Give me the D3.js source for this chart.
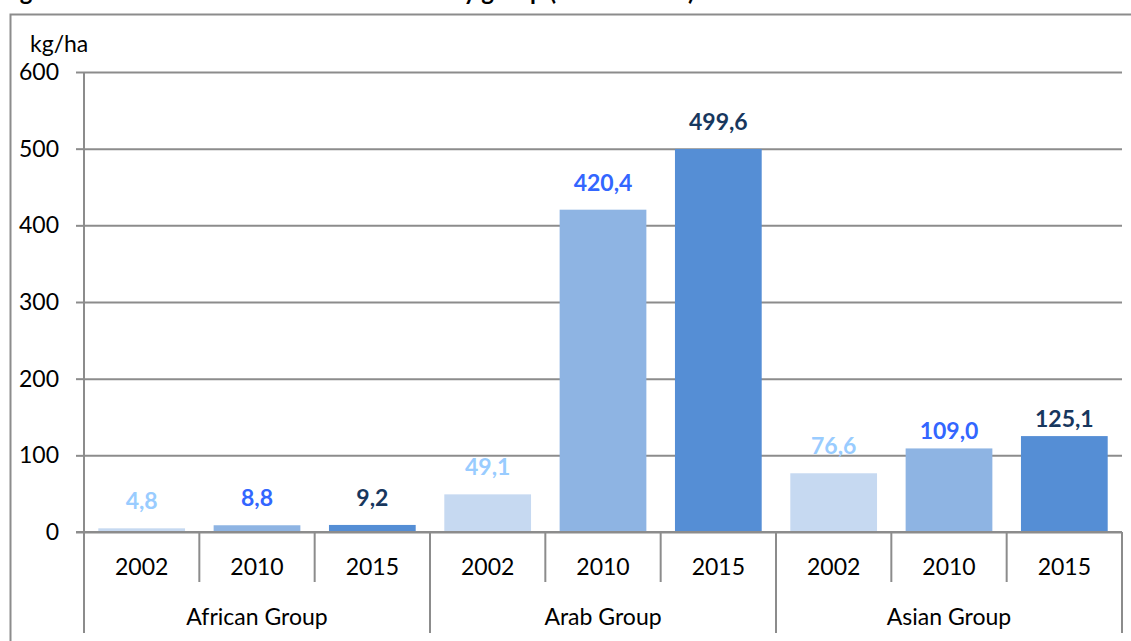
<!DOCTYPE html>
<html>
<head>
<meta charset="utf-8">
<script src="https://cdn.jsdelivr.net/npm/d3@7"></script>
<style>
  body { margin: 0; background: #fff; overflow: hidden; }
  svg { display: block; font-family: Lato, "Open Sans", sans-serif; }
</style>
</head>
<body>
<svg id="chart" width="1131" height="641"></svg>
<script>
// data
var groups = ["African Group", "Arab Group", "Asian Group"];
var years = ["2002", "2010", "2015"];
var african = [4.8, 8.8, 9.2];
var arab = [49.1, 420.4, 499.6];
var asian = [76.6, 109.0, 125.1];
var yTicks = [0, 100, 200, 300, 400, 500, 600];

var values = [african, arab, asian];
var barColor = {"2002": "#c6d9f1", "2010": "#8eb4e3", "2015": "#558ed5"};
var labelColor = {"2002": "#99ccff", "2010": "#3366ff", "2015": "#17375e"};
var grey = "#8c8c8c";
var fs = 23;

var svg = d3.select("#chart");

// figure title, cut off at the top of the picture
svg.append("text")
    .attr("x", 0).attr("y", 0)
    .attr("font-size", 24).attr("font-weight", "bold")
    .attr("fill", "#000")
    .text("Figure 3: Total fertilizer use on arable land by group (2002 - 2015)");

// chart frame
svg.append("path")
    .attr("d", "M10.5,1000V14.5H1200")
    .attr("fill", "none").attr("stroke", grey).attr("stroke-width", 2);

var plotL = 84, plotR = 1122, plotT = 72, base = 532, catBottom = 633;

var y = d3.scaleLinear().domain([0, 600]).range([base, plotT]);
var x0 = d3.scaleBand().domain(groups).range([plotL, plotR]);
var x1 = d3.scaleBand().domain(years).range([0, x0.bandwidth()])
    .paddingInner(0.248).paddingOuter(0.124);

// gridlines + ticks
var grid = svg.append("g").attr("transform", "translate(" + plotL + ",0)")
    .call(d3.axisLeft(y).tickValues(yTicks).tickSize(-(plotR - plotL)).tickFormat(""));
grid.select(".domain").remove();
grid.selectAll("line").attr("stroke", grey).attr("stroke-width", 2);

var yAxis = svg.append("g").attr("transform", "translate(" + plotL + ",0)")
    .call(d3.axisLeft(y).tickValues(yTicks).tickSize(8).tickPadding(17).tickFormat(d3.format("d")));
yAxis.select(".domain").remove();
yAxis.selectAll("line").attr("stroke", grey).attr("stroke-width", 2);
yAxis.selectAll("text").attr("font-size", fs).attr("fill", "#000")
    .attr("font-family", "Lato, sans-serif");

svg.append("text").attr("x", 30).attr("y", 52)
    .attr("font-size", fs).attr("fill", "#000").text("kg/ha");

// bars
var fmt = function (v) { return d3.format(".1f")(v).replace(".", ","); };
var rows = [];
groups.forEach(function (g, gi) {
    years.forEach(function (yr, yi) {
        rows.push({group: g, year: yr, value: values[gi][yi]});
    });
});

var gBars = svg.append("g");
gBars.selectAll("rect").data(rows).enter().append("rect")
    .attr("x", function (d) { return x0(d.group) + x1(d.year); })
    .attr("width", x1.bandwidth())
    .attr("y", function (d) { return y(d.value); })
    .attr("height", function (d) { return base - y(d.value); })
    .attr("fill", function (d) { return barColor[d.year]; });

// value labels (Excel had the two tallest Asian labels dragged down)
var nudge = {"Asian Group 2010": 10, "Asian Group 2015": 10};
gBars.selectAll("text").data(rows).enter().append("text")
    .attr("x", function (d) { return x0(d.group) + x1(d.year) + x1.bandwidth() / 2; })
    .attr("y", function (d) { return y(d.value) - 19 + (nudge[d.group + " " + d.year] || 0); })
    .attr("text-anchor", "middle")
    .attr("font-size", fs).attr("font-weight", "bold")
    .attr("fill", function (d) { return labelColor[d.year]; })
    .text(function (d) { return fmt(d.value); });

// baseline
svg.append("line").attr("x1", plotL - 8).attr("x2", plotR)
    .attr("y1", base).attr("y2", base).attr("stroke", grey).attr("stroke-width", 2);
svg.append("line").attr("x1", plotL).attr("x2", plotL)
    .attr("y1", plotT).attr("y2", catBottom).attr("stroke", grey).attr("stroke-width", 2);

// category axis: year dividers and group dividers
var cat = svg.append("g");
groups.forEach(function (g) {
    years.forEach(function (yr, yi) {
        var cx0 = x0(g) + x0.bandwidth() * yi / years.length;
        var cw = x0.bandwidth() / years.length;
        if (yi > 0) {
            cat.append("line").attr("x1", cx0).attr("x2", cx0)
                .attr("y1", base).attr("y2", 582).attr("stroke", grey).attr("stroke-width", 2);
        }
        cat.append("text").attr("x", cx0 + cw / 2).attr("y", 575)
            .attr("text-anchor", "middle").attr("font-size", fs).attr("fill", "#000").text(yr);
    });
    cat.append("line").attr("x1", x0(g) + x0.bandwidth()).attr("x2", x0(g) + x0.bandwidth())
        .attr("y1", base).attr("y2", catBottom).attr("stroke", grey).attr("stroke-width", 2);
    cat.append("text").attr("x", x0(g) + x0.bandwidth() / 2).attr("y", 625)
        .attr("text-anchor", "middle").attr("font-size", fs).attr("fill", "#000").text(g);
});
</script>
</body>
</html>
